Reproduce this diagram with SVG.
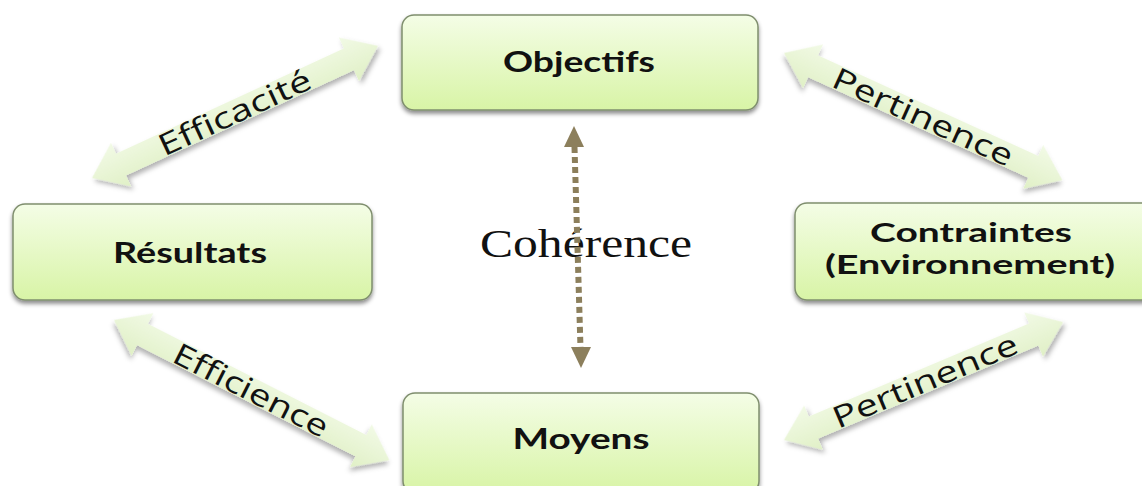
<svg xmlns="http://www.w3.org/2000/svg" width="1142" height="486" viewBox="0 0 1142 486">
<defs>
<linearGradient id="boxg" x1="0" y1="0" x2="0" y2="1">
<stop offset="0" stop-color="#f4fde6"/>
<stop offset="1" stop-color="#d8f4a6"/>
</linearGradient>
<linearGradient id="arrg" x1="0" y1="0" x2="0" y2="1">
<stop offset="0" stop-color="#f2fae6"/>
<stop offset="1" stop-color="#e0f0c6"/>
</linearGradient>
<filter id="sh" x="-10%" y="-10%" width="120%" height="130%">
<feDropShadow dx="0" dy="3" stdDeviation="2" flood-color="#000" flood-opacity="0.45"/>
</filter>
<filter id="ash" x="-10%" y="-30%" width="120%" height="160%">
<feDropShadow dx="1" dy="4" stdDeviation="2.5" flood-color="#000" flood-opacity="0.3"/>
</filter>
</defs>
<style>
.box{fill:url(#boxg);stroke:#7f8e6e;stroke-width:1.5;filter:url(#sh)}
.bt{font-family:"Lato","Open Sans",sans-serif;font-weight:bold;font-size:28px;fill:#111;text-anchor:middle}
.bt2{font-family:"Lato","Open Sans",sans-serif;font-weight:bold;font-size:26px;fill:#111;text-anchor:middle}
.arr{fill:url(#arrg);filter:url(#ash)}
.at{font-family:"Open Sans","DejaVu Sans",sans-serif;font-size:30px;fill:#111;text-anchor:middle}
.dot{stroke:#8c7f5c;stroke-width:6;stroke-dasharray:6 4;fill:none}
.head{fill:#8c7f5c}
.coh{font-family:"Liberation Serif","Times New Roman",serif;font-size:40px;fill:#111;text-anchor:middle}
</style>
<rect width="1142" height="486" fill="#ffffff"/>

<g id="connectors">
<g id="efficacite" transform="translate(92,178) rotate(-24.8)">
<polygon class="arr" points="0,0 32,-24 32,-12 283,-12 283,-24 315,0 283,24 283,12 32,12 32,24"/>
<text class="at" x="157" y="11" textLength="165" lengthAdjust="spacingAndGlyphs">Efficacité</text>
</g>
<g id="pertinence1" transform="translate(784,53) rotate(24.55)">
<polygon class="arr" points="0,0 32,-24 32,-12 274,-12 274,-24 306,0 274,24 274,12 32,12 32,24"/>
<text class="at" x="153" y="11" textLength="195" lengthAdjust="spacingAndGlyphs">Pertinence</text>
</g>
<g id="efficience" transform="translate(114,320) rotate(26.98)">
<polygon class="arr" points="0,0 32,-24 32,-12 277,-12 277,-24 309,0 277,24 277,12 32,12 32,24"/>
<text class="at" x="154" y="11" textLength="170" lengthAdjust="spacingAndGlyphs">Efficience</text>
</g>
<g id="pertinence2" transform="translate(784,440) rotate(-22.9)">
<polygon class="arr" points="0,0 32,-24 32,-12 271,-12 271,-24 303,0 271,24 271,12 32,12 32,24"/>
<text class="at" x="153" y="11" textLength="198" lengthAdjust="spacingAndGlyphs">Pertinence</text>
</g>
<g id="coherence">
<text class="coh" x="586" y="257" textLength="212" lengthAdjust="spacingAndGlyphs">Cohérence</text>
<line class="dot" x1="574.5" y1="147" x2="580.5" y2="348"/>
<polygon class="head" points="574,126 564,147 584,147"/>
<polygon class="head" points="581,368 571,347 591,347"/>
</g>
</g>

<g id="objectifs">
<rect class="box" x="402" y="15" width="356" height="95" rx="12"/>
<text class="bt" x="579" y="72" textLength="152" lengthAdjust="spacingAndGlyphs">Objectifs</text>
</g>
<g id="resultats">
<rect class="box" x="13" y="204" width="359" height="96" rx="12"/>
<text class="bt" x="190" y="263" textLength="154" lengthAdjust="spacingAndGlyphs">Résultats</text>
</g>
<g id="contraintes">
<rect class="box" x="795" y="203" width="360" height="97" rx="12"/>
<text class="bt2" x="971" y="242" textLength="202" lengthAdjust="spacingAndGlyphs">Contraintes</text>
<text class="bt2" x="970" y="274" textLength="290" lengthAdjust="spacingAndGlyphs">(Environnement)</text>
</g>
<g id="moyens">
<rect class="box" x="403" y="393" width="356" height="100" rx="12"/>
<text class="bt" x="581" y="449" textLength="137" lengthAdjust="spacingAndGlyphs">Moyens</text>
</g>
</svg>
